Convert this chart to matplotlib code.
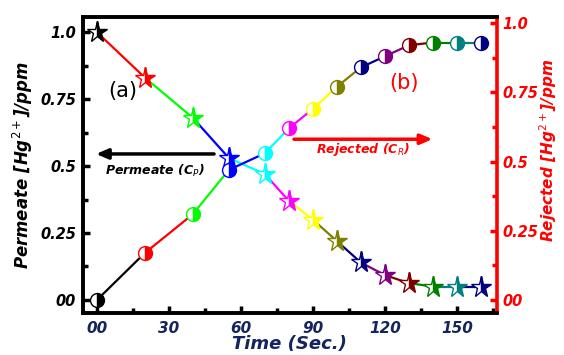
import matplotlib
matplotlib.use("Agg")
import matplotlib.pyplot as plt
from matplotlib.ticker import MultipleLocator, FixedLocator

plt.rcParams['font.family'] = ['DejaVu Sans']
plt.rcParams['mathtext.fontset'] = 'dejavusans'

# ---- data ----
time_s = [0, 20, 40, 55, 70, 80, 90, 100, 110, 120, 130, 140, 150, 160]
permeate = [1.0, 0.83, 0.68, 0.53, 0.47, 0.37, 0.30, 0.22, 0.14, 0.093, 0.063, 0.05, 0.05, 0.05]
rejected = [0.0, 0.17, 0.31, 0.47, 0.53, 0.62, 0.69, 0.77, 0.84, 0.88, 0.92, 0.93, 0.93, 0.93]
point_colors = ['#000000', '#ff0000', '#00ff00', '#0000ff', '#00ffff', '#ff00ff', '#ffff00',
                '#808000', '#000080', '#800080', '#800000', '#008000', '#008080', '#000080']
x_ticks = [0, 30, 60, 90, 120, 150]
x_ticklabels = ['00', '30', '60', '90', '120', '150']
y_ticks = [0, 0.25, 0.5, 0.75, 1.0]
y_ticklabels = ['00', '0.25', '0.5', '0.75', '1.0']

navy_txt = '#14245e'

fig = plt.figure(figsize=(5.64, 3.55), dpi=100)
ax = fig.add_axes([0.147, 0.118, 0.734, 0.834])
ax2 = ax.twinx()

# permeate (stars) on left axis: segment colored by end point
for i in range(len(time_s) - 1):
    ax.plot(time_s[i:i + 2], permeate[i:i + 2], color=point_colors[i + 1], lw=1.6, zorder=2)
for i in range(len(time_s)):
    ax.plot(time_s[i], permeate[i], marker='*', ms=15.5, mec=point_colors[i], mew=1.0,
            mfc=point_colors[i], fillstyle='right', markerfacecoloralt='white', zorder=3)

# rejected (circles) on right axis: segment colored by start point
for i in range(len(time_s) - 1):
    ax2.plot(time_s[i:i + 2], rejected[i:i + 2], color=point_colors[i], lw=1.6, zorder=2)
for i in range(len(time_s)):
    ax2.plot(time_s[i], rejected[i], marker='o', ms=10, mec=point_colors[i], mew=1.0,
             mfc=point_colors[i], fillstyle='right', markerfacecoloralt='white', zorder=3)

ax.set_xlim(-5.8, 166.7)
ax.set_ylim(-0.049, 1.056)
ax2.set_ylim(-0.047, 1.022)

tick_font = dict(fontsize=10.5, fontweight='bold', fontstyle='italic')
ax.xaxis.set_major_locator(FixedLocator(x_ticks))
ax.set_xticklabels(x_ticklabels, color=navy_txt, fontsize=11, fontweight='bold', fontstyle='italic')
ax.xaxis.set_minor_locator(MultipleLocator(15))
ax.yaxis.set_major_locator(FixedLocator(y_ticks))
ax.set_yticklabels(y_ticklabels, color='black', **tick_font)
ax.yaxis.set_minor_locator(MultipleLocator(0.125))
ax2.yaxis.set_major_locator(FixedLocator(y_ticks))
ax2.set_yticklabels(y_ticklabels, color='red', **tick_font)
ax2.yaxis.set_minor_locator(MultipleLocator(0.125))

ax.tick_params(axis='both', which='both', direction='in', width=2.5, color='black')
ax.tick_params(axis='both', which='major', length=5, pad=5)
ax.tick_params(axis='both', which='minor', length=3.5)
ax.tick_params(axis='x', which='major', pad=6)
ax.tick_params(right=False, top=False)
ax2.tick_params(axis='y', which='both', direction='in', width=2.5, color='red')
ax2.tick_params(axis='y', which='major', length=5, pad=4)
ax2.tick_params(axis='y', which='minor', length=3.5)

for side in ['left', 'top', 'bottom']:
    ax.spines[side].set_linewidth(2.6)
    ax2.spines[side].set_linewidth(2.6)
ax2.spines['right'].set_linewidth(2.6)
ax2.spines['right'].set_color('red')
ax.spines['right'].set_visible(False)

lab_font = dict(fontsize=12, fontweight='bold', fontstyle='italic')
ax.set_ylabel('Permeate [Hg$^{2+}$]/ppm', color='black', labelpad=4, **lab_font)
ax2.set_ylabel('Rejected [Hg$^{2+}$]/ppm', color='red', rotation=90, labelpad=4,
               fontsize=11, fontweight='bold', fontstyle='italic')
ax2.yaxis.set_label_coords(1.098, 0.55)
ax.set_xlabel('Time (Sec.)', color=navy_txt, fontsize=13, fontweight='bold', fontstyle='italic',
              labelpad=-1)

# arrows and annotations
ax.annotate('', xy=(-1.5, 0.545), xytext=(50, 0.545),
            arrowprops=dict(arrowstyle='-|>,head_length=0.7,head_width=0.3', color='black', lw=2.5))
ax.text(24, 0.483, 'Permeate (C$_P$)', ha='center', va='center', fontsize=9, fontweight='bold',
        fontstyle='italic', color='black')
ax.annotate('', xy=(141, 0.60), xytext=(81, 0.60),
            arrowprops=dict(arrowstyle='-|>,head_length=0.7,head_width=0.3', color='red', lw=2.5))
ax.text(111, 0.56, 'Rejected (C$_R$)', ha='center', va='center', fontsize=9, fontweight='bold',
        fontstyle='italic', color='red')
ax.text(11, 0.78, '(a)', ha='center', va='center', fontsize=15, color='black')
ax.text(128, 0.81, '(b)', ha='center', va='center', fontsize=15, color='red')

fig.savefig('out.png', dpi=100)
